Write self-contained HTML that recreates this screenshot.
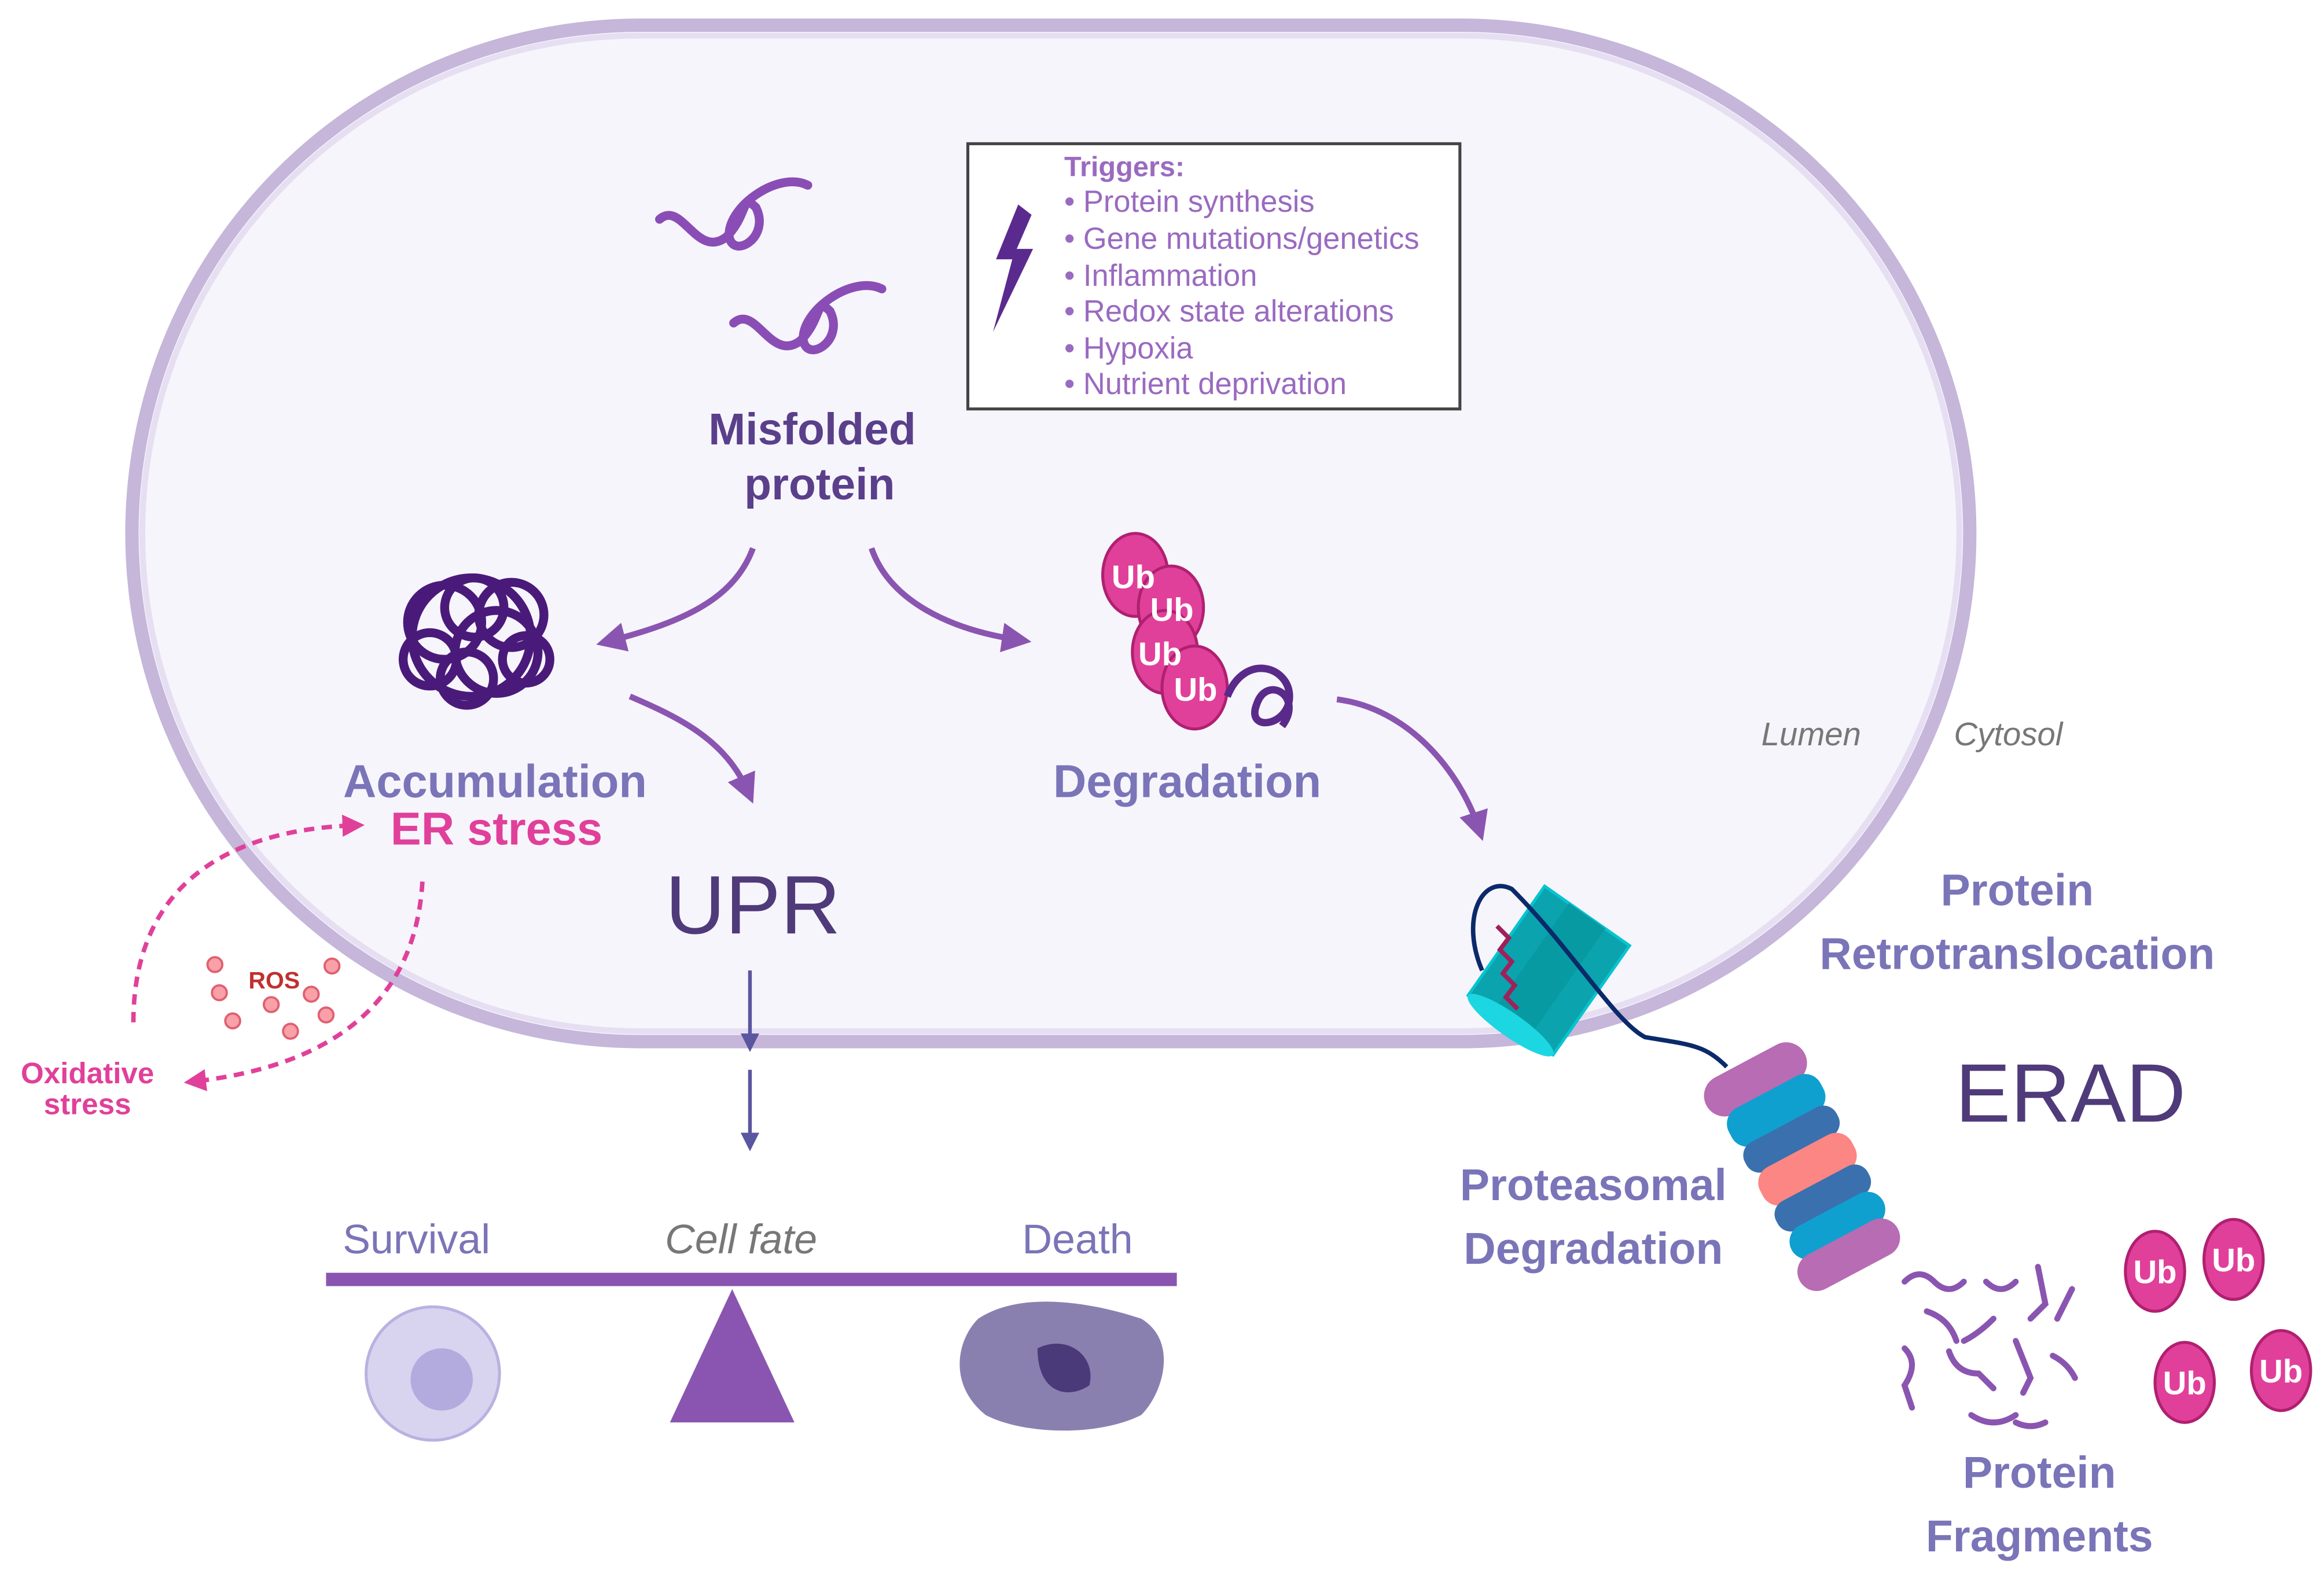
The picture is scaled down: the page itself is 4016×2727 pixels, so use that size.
<!DOCTYPE html>
<html><head><meta charset="utf-8"><style>html,body{margin:0;padding:0;background:#fff}svg{display:block}text{font-family:"Liberation Sans",sans-serif}</style></head><body>
<svg width="4016" height="2727" viewBox="0 0 1568 1065" preserveAspectRatio="none" xmlns="http://www.w3.org/2000/svg">
<defs>
<marker id="ah" viewBox="0 0 10 10" refX="6" refY="5" markerWidth="5" markerHeight="5" orient="auto"><path d="M0,0 L10,5 L0,10 z" fill="#8a55b0"/></marker>
<marker id="ap" viewBox="0 0 10 10" refX="6" refY="5" markerWidth="5" markerHeight="5" orient="auto"><path d="M0,0 L10,5 L0,10 z" fill="#e0409a"/></marker>
<marker id="ab" viewBox="0 0 10 10" refX="6" refY="5" markerWidth="5" markerHeight="5" orient="auto"><path d="M0,0 L10,5 L0,10 z" fill="#5a56a0"/></marker>
</defs>
<rect width="1568" height="1065" fill="#fff"/>
<rect x="89" y="17" width="1240" height="686" rx="343" fill="#f7f5fc" stroke="#c5b6da" stroke-width="9"/>
<rect x="96" y="24" width="1226" height="672" rx="336" fill="none" stroke="#e6dff2" stroke-width="4"/>
<rect x="653" y="97" width="332" height="179" fill="#fff" stroke="#444" stroke-width="2"/>
<path d="M687,138 L672,175 L683,175 L670,224 L697,168 L686,168 L696,145 z" fill="#5b2a8e"/>
<g fill="#9a6ac0" font-size="20.5">
<text x="718" y="119" font-weight="bold" font-size="19">Triggers:</text>
<text x="718" y="143">• Protein synthesis</text>
<text x="718" y="168">• Gene mutations/genetics</text>
<text x="718" y="193">• Inflammation</text>
<text x="718" y="217">• Redox state alterations</text>
<text x="718" y="242">• Hypoxia</text>
<text x="718" y="266">• Nutrient deprivation</text>
</g>
<g fill="none" stroke="#8a4db5" stroke-width="6" stroke-linecap="round">
<path d="M445,148 C460,135 470,175 490,160 C505,145 500,130 510,140 C520,160 495,175 492,160 C490,140 525,115 545,125"/>
<path d="M495,218 C510,205 520,245 540,230 C555,215 550,200 560,210 C570,230 545,245 542,230 C540,210 575,185 595,195"/>
</g>
<text x="548" y="300" text-anchor="middle" font-size="30" font-weight="bold" fill="#5a3f8a">Misfolded</text>
<text x="553" y="337" text-anchor="middle" font-size="30" font-weight="bold" fill="#5a3f8a">protein</text>
<g fill="none" stroke="#8a55b0" stroke-width="4">
<path d="M508,370 C495,405 460,420 410,433" marker-end="url(#ah)"/>
<path d="M588,370 C600,405 640,425 688,432" marker-end="url(#ah)"/>
<path d="M425,470 C460,485 490,500 505,535" marker-end="url(#ah)"/>
<path d="M902,472 C950,478 985,520 998,560" marker-end="url(#ah)"/>
</g>
<g fill="none" stroke="#4a1a7a" stroke-width="6">
<circle cx="318" cy="430" r="40"/><circle cx="300" cy="420" r="25"/><circle cx="335" cy="440" r="28"/>
<circle cx="320" cy="410" r="20"/><circle cx="290" cy="445" r="18"/><circle cx="345" cy="415" r="22"/>
<circle cx="315" cy="458" r="18"/><circle cx="355" cy="445" r="16"/>
</g>
<g fill="#e0409a" stroke="#b02070" stroke-width="2">
<ellipse cx="766" cy="388" rx="22" ry="28"/><ellipse cx="790" cy="410" rx="22" ry="28"/>
<ellipse cx="786" cy="440" rx="22" ry="28"/><ellipse cx="806" cy="464" rx="22" ry="28"/>
</g>
<g fill="#fff" font-size="22" font-weight="bold"><text x="750" y="397">Ub</text><text x="776" y="419">Ub</text><text x="768" y="449">Ub</text><text x="792" y="473">Ub</text></g>
<path d="M828,470 C840,440 870,450 870,470 C870,490 840,495 848,475 C855,455 880,470 865,490" fill="none" stroke="#5a2a8a" stroke-width="5"/>
<text x="334" y="538" text-anchor="middle" font-size="31" font-weight="bold" fill="#7a74b8">Accumulation</text>
<text x="335" y="570" text-anchor="middle" font-size="31" font-weight="bold" fill="#e0409a">ER stress</text>
<text x="801" y="538" text-anchor="middle" font-size="31" font-weight="bold" fill="#7a74b8">Degradation</text>
<text x="508" y="630" text-anchor="middle" font-size="56" fill="#4f3a7a">UPR</text>
<text x="1222" y="503" text-anchor="middle" font-size="22" font-style="italic" fill="#777">Lumen</text>
<text x="1355" y="503" text-anchor="middle" font-size="22" font-style="italic" fill="#777">Cytosol</text>
<g fill="none" stroke="#e0409a" stroke-width="3" stroke-dasharray="7,5">
<path d="M90,690 C90,600 150,560 240,557" marker-end="url(#ap)"/>
<path d="M285,595 C280,680 220,720 130,730" marker-end="url(#ap)"/>
</g>
<g fill="#f9a0a8" stroke="#e06070" stroke-width="1.5">
<circle cx="145" cy="651" r="5"/><circle cx="148" cy="670" r="5"/><circle cx="157" cy="689" r="5"/><circle cx="183" cy="678" r="5"/><circle cx="196" cy="696" r="5"/><circle cx="210" cy="671" r="5"/><circle cx="220" cy="685" r="5"/><circle cx="224" cy="652" r="5"/>
</g>
<text x="185" y="667" text-anchor="middle" font-size="16" font-weight="bold" fill="#c03030">ROS</text>
<text x="59" y="731" text-anchor="middle" font-size="20" font-weight="bold" fill="#e0409a">Oxidative</text>
<text x="59" y="752" text-anchor="middle" font-size="20" font-weight="bold" fill="#e0409a">stress</text>
<g stroke="#5a56a0" stroke-width="2.5" fill="none">
<line x1="506" y1="655" x2="506" y2="705" marker-end="url(#ab)"/>
<line x1="506" y1="722" x2="506" y2="772" marker-end="url(#ab)"/>
</g>
<text x="281" y="846" text-anchor="middle" font-size="28" fill="#7a74b8">Survival</text>
<text x="500" y="846" text-anchor="middle" font-size="28" font-style="italic" fill="#777">Cell fate</text>
<text x="727" y="846" text-anchor="middle" font-size="28" fill="#7a74b8">Death</text>
<rect x="220" y="859" width="574" height="9" fill="#8a55b0"/>
<path d="M494,870 L536,960 L452,960 z" fill="#8a55b0"/>
<circle cx="292" cy="927" r="45" fill="#d8d4f0" stroke="#b9b2e0" stroke-width="2"/>
<circle cx="298" cy="931" r="21" fill="#b3aade"/>
<path d="M660,890 C690,870 740,880 770,890 C795,905 785,940 770,955 C740,970 690,968 665,955 C640,935 645,905 660,890 z" fill="#8a80b0"/>
<path d="M700,910 C720,900 740,915 735,935 C720,945 700,940 700,910 z" fill="#4a3a7a"/>
<g transform="rotate(35 1045 655)">
<rect x="1010" y="610" width="70" height="90" fill="#0aa3ae" stroke="#07c4d0" stroke-width="2"/>
<rect x="1030" y="610" width="30" height="90" fill="#089aa2"/>
<ellipse cx="1045" cy="700" rx="35" ry="8" fill="#1cd6e2"/>
</g>
<path d="M1000,655 C985,620 1000,590 1020,600 C1060,640 1090,690 1110,700 C1140,705 1150,705 1165,720" fill="none" stroke="#0a2a6a" stroke-width="3"/>
<path d="M1010,625 l8,8 l-6,8 l8,8 l-6,8 l8,8 l-6,8 l8,8" fill="none" stroke="#a0205a" stroke-width="3"/>
<g transform="rotate(-28 1215 770)">
<rect x="1170" y="705" width="75" height="28" rx="14" fill="#b86cb3"/>
<rect x="1175" y="730" width="70" height="28" rx="12" fill="#0fa0cf"/>
<rect x="1175" y="755" width="70" height="22" rx="10" fill="#3a70ae"/>
<rect x="1175" y="775" width="70" height="28" rx="12" fill="#fb8683"/>
<rect x="1175" y="800" width="70" height="22" rx="10" fill="#3a70ae"/>
<rect x="1175" y="820" width="70" height="24" rx="12" fill="#0fa0cf"/>
<rect x="1170" y="840" width="75" height="26" rx="13" fill="#b86cb3"/>
</g>
<text x="1361" y="611" text-anchor="middle" font-size="30" font-weight="bold" fill="#7a74b8">Protein</text>
<text x="1361" y="654" text-anchor="middle" font-size="30" font-weight="bold" fill="#7a74b8">Retrotranslocation</text>
<text x="1397" y="757" text-anchor="middle" font-size="56" fill="#4f3a7a">ERAD</text>
<text x="1075" y="810" text-anchor="middle" font-size="30" font-weight="bold" fill="#7a74b8">Proteasomal</text>
<text x="1075" y="853" text-anchor="middle" font-size="30" font-weight="bold" fill="#7a74b8">Degradation</text>
<g fill="none" stroke="#8a55b0" stroke-width="4" stroke-linecap="round">
<path d="M1285,865 q10,-10 20,0 t20,0"/><path d="M1340,865 q10,10 20,0"/><path d="M1375,855 l5,25 l-10,10"/>
<path d="M1300,885 q15,5 20,20"/><path d="M1345,890 q-10,10 -20,15"/><path d="M1398,870 l-10,20"/>
<path d="M1285,910 q10,10 0,25 l5,15"/><path d="M1315,912 q5,15 20,15 l10,10"/><path d="M1360,905 l10,25 l-5,10"/>
<path d="M1385,915 q10,5 15,15"/><path d="M1330,955 q15,10 30,0"/><path d="M1360,960 q10,5 20,0"/>
</g>
<g fill="#e0409a" stroke="#b02070" stroke-width="2">
<ellipse cx="1454" cy="858" rx="20" ry="27"/><ellipse cx="1507" cy="850" rx="20" ry="27"/>
<ellipse cx="1474" cy="933" rx="20" ry="27"/><ellipse cx="1539" cy="925" rx="20" ry="27"/>
</g>
<g fill="#fff" font-size="22" font-weight="bold" text-anchor="middle"><text x="1454" y="866">Ub</text><text x="1507" y="858">Ub</text><text x="1474" y="941">Ub</text><text x="1539" y="933">Ub</text></g>
<text x="1376" y="1004" text-anchor="middle" font-size="30" font-weight="bold" fill="#7a74b8">Protein</text>
<text x="1376" y="1047" text-anchor="middle" font-size="30" font-weight="bold" fill="#7a74b8">Fragments</text>
</svg>
</body></html>
